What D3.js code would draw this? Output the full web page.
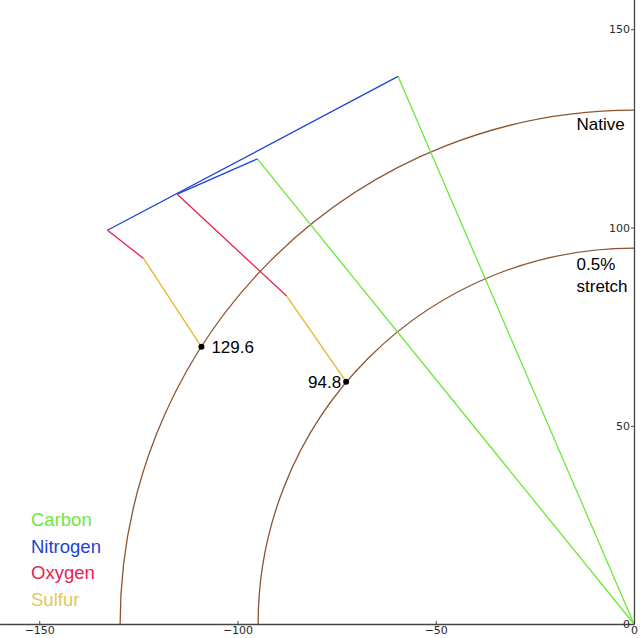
<!DOCTYPE html>
<html>
<head>
<meta charset="utf-8">
<script src="https://cdn.jsdelivr.net/npm/d3@7"></script>
<style>
	html, body { margin: 0; padding: 0; background: #fff; }
	svg { display: block; }
	.tick text { font-family: "DejaVu Sans", sans-serif; font-size: 11px; fill: #2a2a2a; }
	.note { font-family: "Liberation Sans", Arial, sans-serif; }
</style>
</head>
<body>
<svg id="chart" width="640" height="638"></svg>
<script>
'use strict';

//Chain names and colours (one segment per atom type)
var atoms = ["Carbon", "Nitrogen", "Oxygen", "Sulfur"];
var atomColors = ["#6be83a", "#2142d8", "#e8214f", "#e5b52c"];
var legendColors = ["#6be83a", "#2142d8", "#e8214f", "#e0c95a"];

//Circle radii (native, 0.5% stretch)
var radii = [129.6, 94.8];
var radiusNames = [["Native"], ["0.5%", "stretch"]];

//Chain vertices, origin -> C -> N -> O -> S
var nativeX = [0, -59.5, -132.8, -123.7, -109.1];
var nativeY = [0, 138.1, 99.3, 92.2, 69.9];
var stretchX = [0, -95.0, -115.2, -87.6, -72.6];
var stretchY = [0, 117.3, 108.4, 82.7, 61.1];

//Axis ticks
var xTicks = [-150, -100, -50, 0];
var yTicks = [0, 50, 100, 150];

var svg = d3.select("#chart");

//Equal aspect scales, origin sits at the bottom right corner
var pxPerUnit = 3.965;
var x = d3.scaleLinear().domain([-160, 0]).range([634 - 160 * pxPerUnit, 634]);
var y = d3.scaleLinear().domain([0, 158]).range([624, 624 - 158 * pxPerUnit]);

//Arcs (quarter circles)
radii.forEach(function(r) {
	var rPx = x(0) - x(-r);
	var p = d3.path();
	p.arc(x(0), y(0), rPx, Math.PI, Math.PI * 1.5);
	svg.append("path")
		.attr("d", p.toString())
		.attr("fill", "none")
		.attr("stroke", "#8c5530")
		.attr("stroke-width", 1.3);
});

//Chains
var chains = [
	{ xs: nativeX, ys: nativeY },
	{ xs: stretchX, ys: stretchY }
];

chains.forEach(function(chain) {
	for(var i = 0; i < atoms.length; i++) {
		svg.append("line")
			.attr("x1", x(chain.xs[i]))
			.attr("y1", y(chain.ys[i]))
			.attr("x2", x(chain.xs[i + 1]))
			.attr("y2", y(chain.ys[i + 1]))
			.attr("stroke", atomColors[i])
			.attr("stroke-width", 1.3);
	}
	var last = chain.xs.length - 1;
	svg.append("circle")
		.attr("cx", x(chain.xs[last]))
		.attr("cy", y(chain.ys[last]))
		.attr("r", 3)
		.attr("fill", "#000");
});

//Radius values next to the end points
var fmt = d3.format(".1f");
svg.append("text").attr("class", "note")
	.attr("x", x(nativeX[4]) + 10)
	.attr("y", y(nativeY[4]) + 6)
	.attr("font-size", 17)
	.text(fmt(radii[0]));

svg.append("text").attr("class", "note")
	.attr("x", x(stretchX[4]) - 5)
	.attr("y", y(stretchY[4]) + 6)
	.attr("text-anchor", "end")
	.attr("font-size", 17)
	.text(fmt(radii[1]));

//Circle names
var namePos = [[-14.5, 124.6], [-14.5, 89.3]];
radiusNames.forEach(function(lines, k) {
	lines.forEach(function(t, j) {
		svg.append("text").attr("class", "note")
			.attr("x", x(namePos[k][0]))
			.attr("y", y(namePos[k][1]) + j * 22)
			.attr("font-size", 17)
			.text(t);
	});
});

//Axes
var xAxis = d3.axisBottom(x)
	.tickValues(xTicks)
	.tickFormat(d3.format("d"))
	.tickSizeInner(-3)
	.tickSizeOuter(0)
	.tickPadding(2);

var yAxis = d3.axisLeft(y)
	.tickValues(yTicks)
	.tickFormat(d3.format("d"))
	.tickSizeInner(3)
	.tickSizeOuter(0)
	.tickPadding(1);

var gx = svg.append("g").attr("transform", "translate(0," + y(0) + ")").call(xAxis);
var gy = svg.append("g").attr("transform", "translate(" + x(0) + ",0)").call(yAxis);

[gx, gy].forEach(function(g) {
	g.select(".domain").attr("stroke", "#444").attr("stroke-width", 1.3);
	g.selectAll(".tick line").attr("stroke", "#444");
});

//Legend
atoms.forEach(function(a, i) {
	svg.append("text").attr("class", "note")
		.attr("x", 31)
		.attr("y", 526 + i * 26.5)
		.attr("font-size", 18.5)
		.attr("fill", legendColors[i])
		.text(a);
});
</script>
</body>
</html>
